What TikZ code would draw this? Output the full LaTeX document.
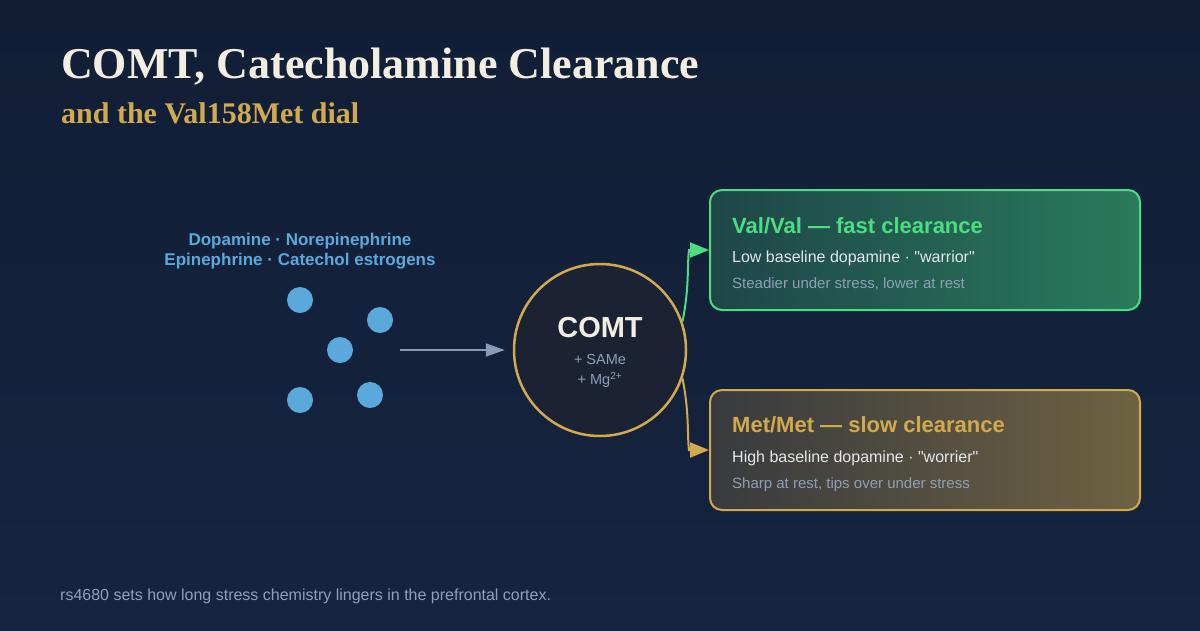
\documentclass[tikz,border=0pt]{standalone}
\usepackage{fontspec}
\setmainfont{Liberation Serif}
\setsansfont{Liberation Sans}[Ligatures=TeXOff]
\usepackage{tikz}
\usetikzlibrary{positioning,arrows.meta,calc,backgrounds}
\definecolor{bgTop}{RGB}{17, 30, 54}
\definecolor{bgBot}{RGB}{21, 36, 63}
\definecolor{titleCream}{RGB}{243, 238, 226}
\definecolor{goldAcc}{RGB}{210, 170, 78}
\definecolor{dotBlue}{RGB}{90, 168, 220}
\definecolor{greenAcc}{RGB}{74, 222, 128}
\definecolor{lineGray}{RGB}{138, 155, 181}
\definecolor{bodyText}{RGB}{228, 231, 235}
\definecolor{mutedText}{RGB}{142, 160, 182}
\definecolor{comtFill}{RGB}{27, 34, 51}
\definecolor{valLeft}{RGB}{30, 70, 72}
\definecolor{valRight}{RGB}{42, 122, 92}
\definecolor{metLeft}{RGB}{56, 58, 62}
\definecolor{metRight}{RGB}{110, 98, 66}

\tikzset{
  molecule/.style={circle, fill=dotBlue, minimum size=26pt, inner sep=0pt},
  cardbox/.style={rounded corners=12pt, line width=2pt, minimum width=430pt, minimum height=120pt},
  cardhead/.style={anchor=base west, inner sep=0pt, font=\sffamily\bfseries\fontsize{22}{26}\selectfont},
  cardline/.style={anchor=base west, inner sep=0pt, text=bodyText, font=\sffamily\fontsize{16}{19}\selectfont},
  cardnote/.style={anchor=base west, inner sep=0pt, text=mutedText, font=\sffamily\fontsize{15}{18}\selectfont},
  branch/.style={line width=2pt, -{Triangle[length=19pt,width=15pt]}}
}

\begin{document}
\begin{tikzpicture}[x=1pt, y=-1pt]
  \useasboundingbox (0,0) rectangle (1200,630);
  \fill[top color=bgTop, bottom color=bgBot] (0,0) rectangle (1200,630);

  % heading
  \node[anchor=base west, inner sep=0pt, text=titleCream, font=\bfseries\fontsize{44}{50}\selectfont] (title) at (61,78) {COMT, Catecholamine Clearance};
  \node[anchor=base west, inner sep=0pt, text=goldAcc, font=\bfseries\fontsize{30}{34}\selectfont] (subtitle) at (61,123) {and the Val158Met dial};

  % substrates
  \node[align=center, text=dotBlue, font=\sffamily\bfseries\fontsize{17}{20}\selectfont] (substrates) at (300,251) {Dopamine · Norepinephrine\\Epinephrine · Catechol estrogens};
  \node[molecule] (m1) at (300,300) {};
  \node[molecule] (m2) at (380,320) {};
  \node[molecule] (m3) at (340,350) {};
  \node[molecule] (m4) at (300,400) {};
  \node[molecule] (m5) at (370,395) {};
  \coordinate (feed) at (400,350);

  % enzyme
  \node[circle, draw=goldAcc, line width=2.5pt, fill=comtFill, minimum size=172pt, inner sep=0pt] (comt) at (600,350) {};
  \node[text=titleCream, font=\sffamily\bfseries\fontsize{29}{34}\selectfont] (comtlabel) at (600,328) {COMT};
  \node[align=center, text=mutedText, font=\sffamily\fontsize{14.5}{20}\selectfont] (cofactors) at (600,371) {+ SAMe\\+ Mg\textsuperscript{2+}};
  \draw[lineGray, line width=2pt, shorten >=8pt, -{Triangle[length=19pt,width=13pt]}] (feed) -- (comt.west);

  % genotype cards
  \node[cardbox, draw=greenAcc, left color=valLeft, right color=valRight] (valbox) at (925,250) {};
  \node[cardhead, text=greenAcc] (valhead) at (732,233) {Val/Val — fast clearance};
  \node[cardline] (valline) at (732,262) {Low baseline dopamine · "warrior"};
  \node[cardnote] (valnote) at (732,288) {Steadier under stress, lower at rest};

  \node[cardbox, draw=goldAcc, left color=metLeft, right color=metRight] (metbox) at (925,450) {};
  \node[cardhead, text=goldAcc] (methead) at (732,432) {Met/Met — slow clearance};
  \node[cardline] (metline) at (732,462) {High baseline dopamine · "worrier"};
  \node[cardnote] (metnote) at (732,488) {Sharp at rest, tips over under stress};

  \draw[branch, greenAcc] (comt.19) .. controls +(7,-35) and +(-2,16) .. ($(valbox.west)+(-20,0)$) -- (valbox.west);
  \draw[branch, goldAcc] (comt.-19) .. controls +(7,35) and +(-2,-16) .. ($(metbox.west)+(-20,0)$) -- (metbox.west);

  % footer
  \node[anchor=base west, inner sep=0pt, text=mutedText, font=\sffamily\fontsize{16}{19}\selectfont] (footer) at (60,600) {rs4680 sets how long stress chemistry lingers in the prefrontal cortex.};
\end{tikzpicture}
\end{document}
